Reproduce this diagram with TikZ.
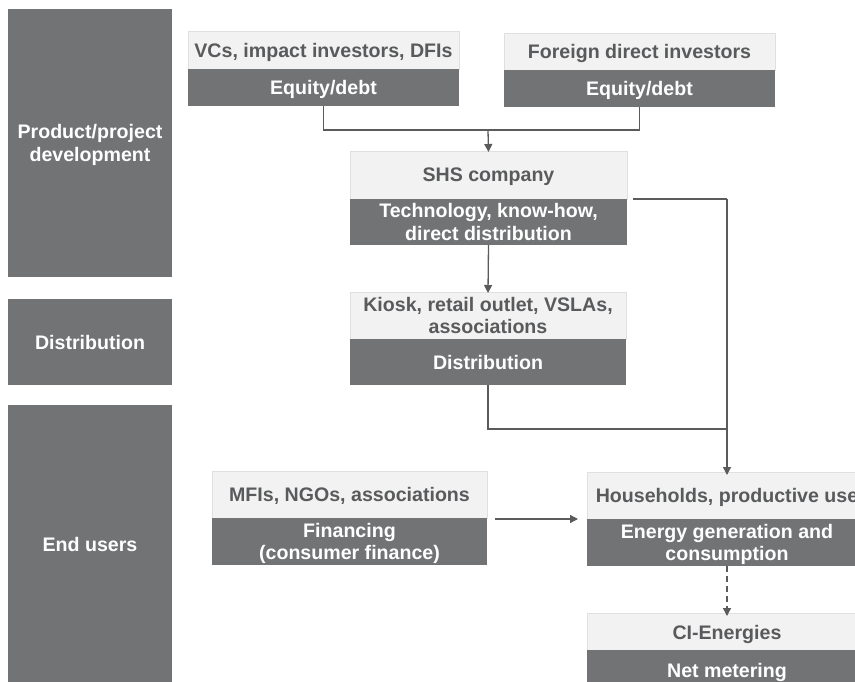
\documentclass[tikz,border=0pt]{standalone}
\usepackage{fontspec}
\setmainfont{Liberation Sans}
\usetikzlibrary{arrows.meta}
\definecolor{bardark}{HTML}{717375}
\definecolor{boxlight}{HTML}{F2F2F2}
\definecolor{titletext}{HTML}{595A5C}
\definecolor{linkgray}{HTML}{5A5B5D}
\begin{document}
\begin{tikzpicture}[x=1pt,y=-1pt,
  every node/.style={inner sep=0pt,outer sep=0pt,anchor=north west,align=center,
    text depth=0pt,font=\fontsize{19.6}{22.5}\selectfont\bfseries},
  phase/.style={fill=bardark,text=white,minimum width=164pt},
  headbox/.style={fill=boxlight,draw=black!12,line width=0.6pt,text=titletext,text depth=-2pt},
  rolebox/.style={fill=bardark,text=white},
  link/.style={draw=linkgray,line width=1.3pt},
  tip/.style={-{Triangle[width=8pt,length=8pt]}},
]
\useasboundingbox (0,0) rectangle (855,681);
\clip (0,0) rectangle (855,681);

% phase bars on the left
\node[phase,minimum height=268pt,text depth=-2pt] (pdev) at (8,9) {Product/project\\development};
\node[phase,minimum height=86pt] (pdist) at (8,299) {Distribution};
\node[phase,minimum height=282pt] (pend) at (8,405) {\raisebox{4pt}{End users}};

% actor boxes: light heading over dark role
\node[headbox,minimum width=271pt,minimum height=38pt] (vcT) at (188,31) {VCs, impact investors, DFIs};
\node[rolebox,minimum width=271pt,minimum height=37pt] (vcB) at (188,69) {Equity/debt};

\node[headbox,minimum width=271pt,minimum height=37pt] (fdT) at (504,33) {Foreign direct investors};
\node[rolebox,minimum width=271pt,minimum height=37pt] (fdB) at (504,70) {Equity/debt};

\node[headbox,minimum width=277pt,minimum height=48pt] (shsT) at (350,151) {SHS company};
\node[rolebox,minimum width=277pt,minimum height=46pt] (shsB) at (350,199) {Technology, know-how,\\direct distribution};

\node[headbox,minimum width=276pt,minimum height=47pt] (kiT) at (350,292) {Kiosk, retail outlet, VSLAs,\\associations};
\node[rolebox,minimum width=276pt,minimum height=46pt] (kiB) at (350,339) {Distribution};

\node[headbox,minimum width=275pt,minimum height=47pt] (mfT) at (212,471) {MFIs, NGOs, associations};
\node[rolebox,minimum width=275pt,minimum height=47pt] (mfB) at (212,518) {Financing\\(consumer finance)};

\node[headbox,minimum width=280pt,minimum height=47pt] (hhT) at (587,472) {Households, productive use};
\node[rolebox,minimum width=280pt,minimum height=47pt] (hhB) at (587,519) {Energy generation and\\consumption};

\node[headbox,minimum width=280pt,minimum height=39pt] (ciT) at (587,613) {CI-Energies};
\node[rolebox,minimum width=280pt,minimum height=40pt,text depth=0pt] (ciB) at (587,650) {Net metering};

% junction points of the connectors
\coordinate (invJoin) at (488,130);
\coordinate (shsOut) at (633,199);
\coordinate (shsCorner) at (727,199);
\coordinate (kiJoin) at (727,429);
\coordinate (mfOut) at (495,519);

% investors feed the SHS company
\draw[link] (vcB.south) |- (invJoin);
\draw[link] (fdB.south) |- (invJoin);
\draw[link,tip] (invJoin) -- ([yshift=-1pt]shsT.north);

% SHS company to distribution and to end users
\draw[link,tip] (shsB.south) -- ([yshift=-1pt]kiT.north);
\draw[link] (shsOut) -- (shsCorner);
\draw[link,tip] (shsCorner) -- ([yshift=-3pt]hhT.north);
\draw[link] (kiB.south) |- (kiJoin);

% consumer finance to households
\draw[link,tip] (mfOut) -- ([xshift=-9pt]hhT.south west);

% households to net metering
\draw[link,tip,dashed,dash pattern=on 6pt off 4pt] (hhB.south) -- ([yshift=-3pt]ciT.north);
\end{tikzpicture}
\end{document}
